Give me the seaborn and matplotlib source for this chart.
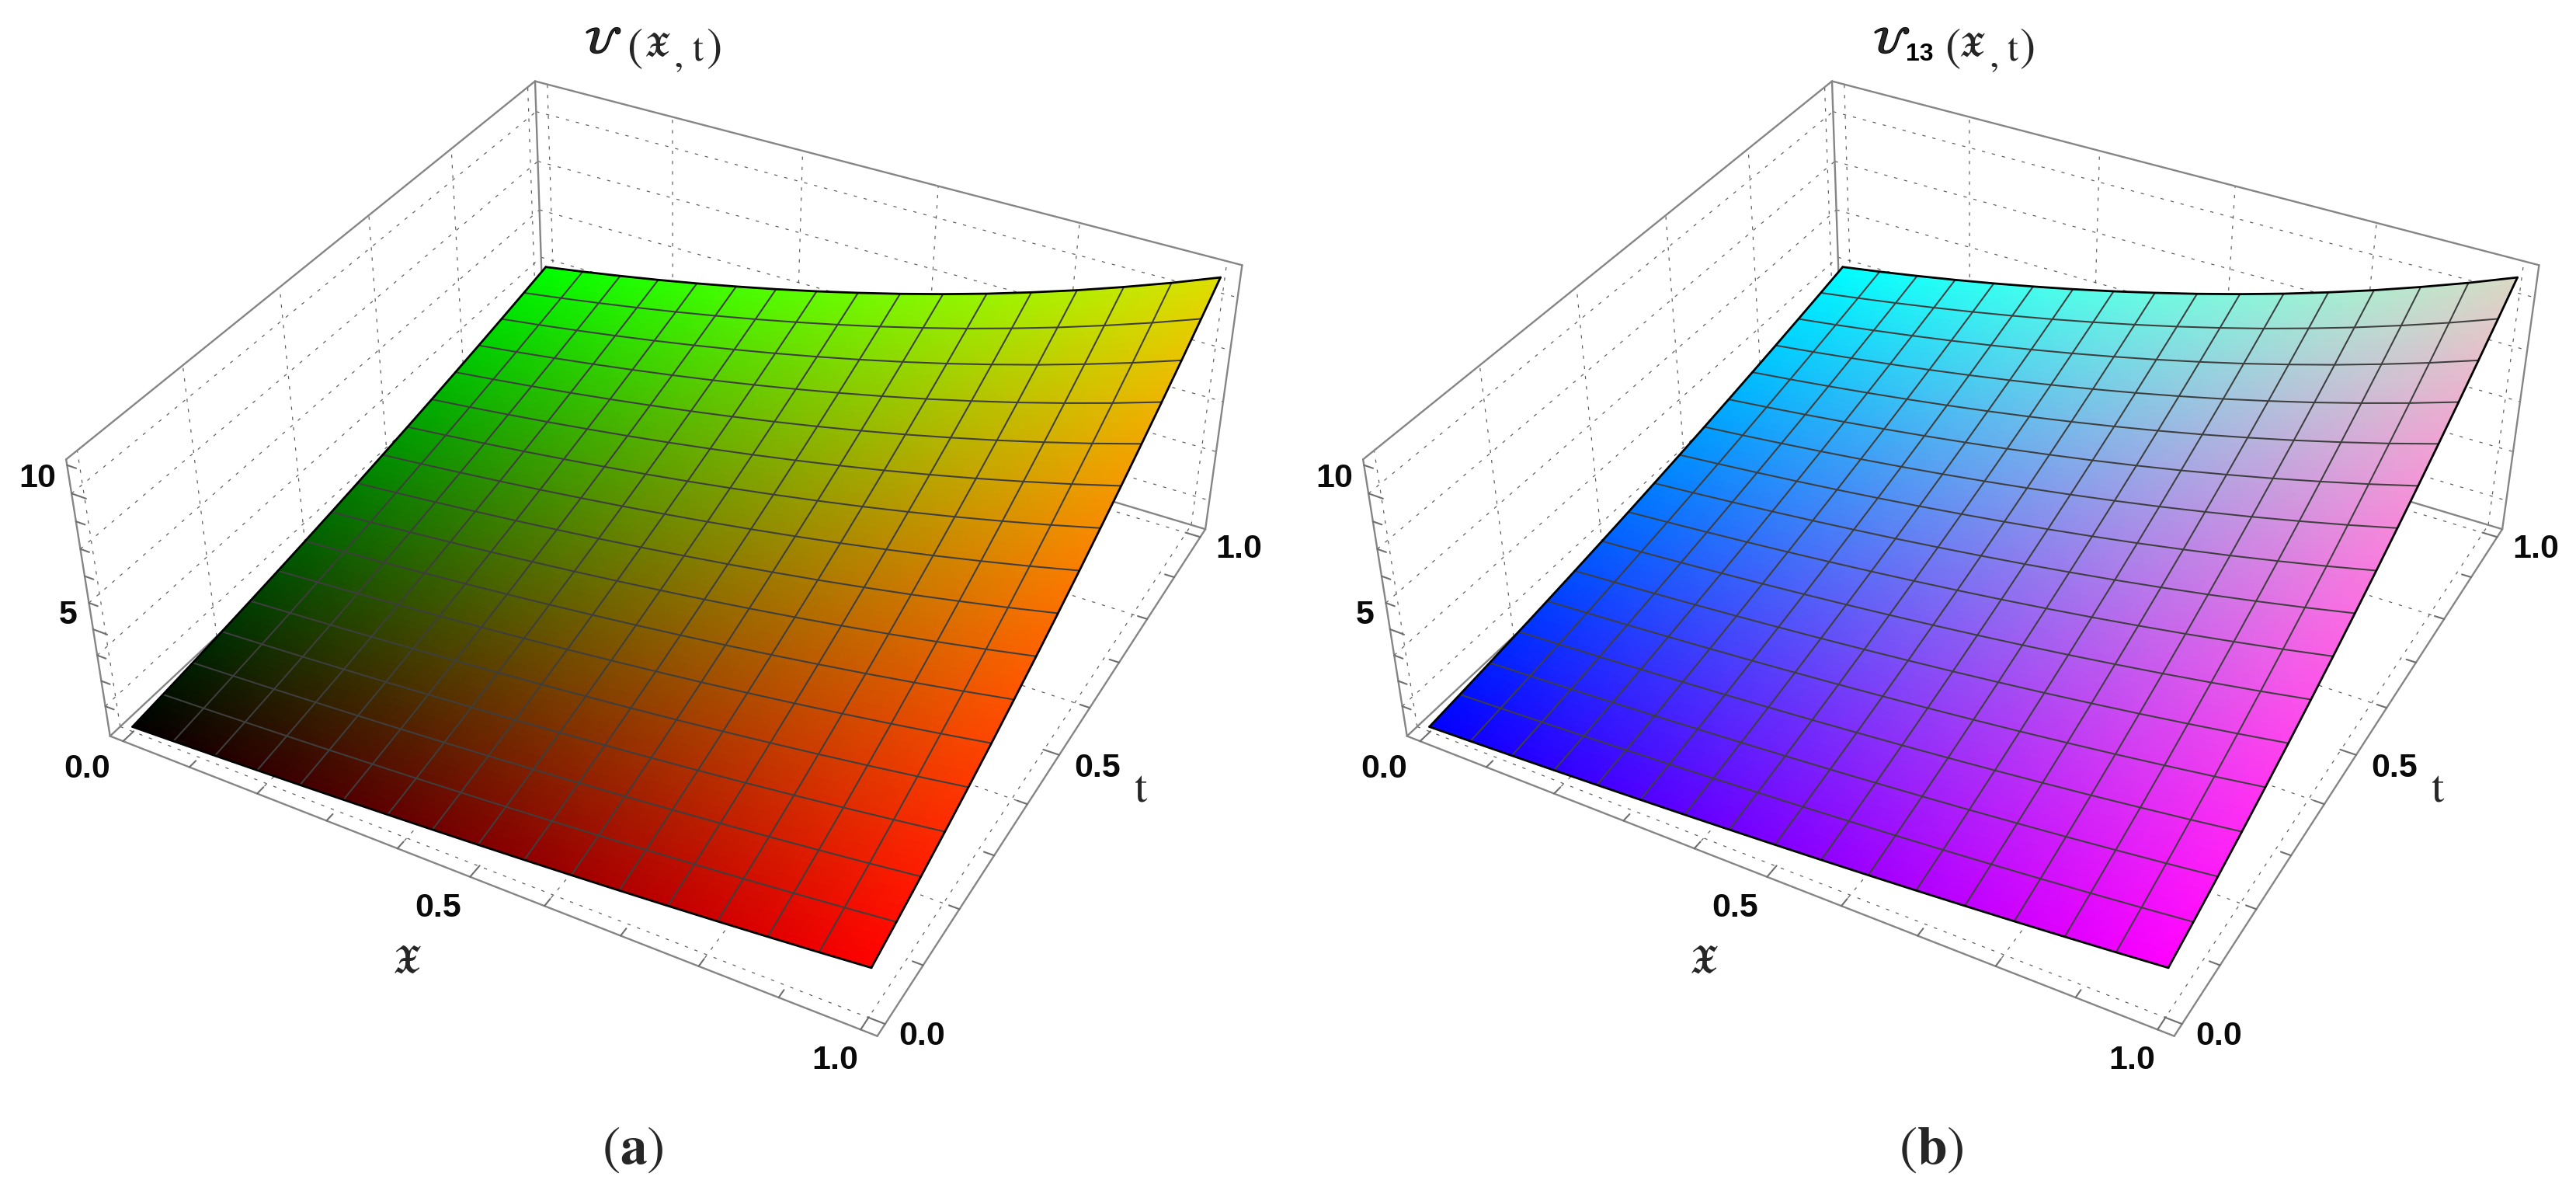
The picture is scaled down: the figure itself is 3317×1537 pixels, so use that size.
import numpy as np
import matplotlib
matplotlib.use('Agg')
import matplotlib.pyplot as plt
import matplotlib.patheffects as pe
import seaborn as sns

sns.set_theme(style='white')
plt.rcParams['mathtext.fontset'] = 'stix'
plt.rcParams['font.family'] = ['Liberation Sans', 'DejaVu Sans']

# values: surface height profile along each edge of the 16-cell mesh
x_nodes = [i / 16 for i in range(17)]
t_nodes = [j / 16 for j in range(17)]
height_along_x = [1.000, 1.064, 1.133, 1.206, 1.284, 1.367, 1.455, 1.549, 1.649,
                  1.755, 1.868, 1.988, 2.117, 2.253, 2.399, 2.553, 2.718]
height_along_t = [1.000, 1.129, 1.266, 1.410, 1.563, 1.723, 1.891, 2.066, 2.250,
                  2.441, 2.641, 2.848, 3.063, 3.285, 3.516, 3.754, 4.000]
x_tick_labels = ['0.0', '0.5', '1.0']
t_tick_labels = ['0.0', '0.5', '1.0']
z_tick_labels = ['5', '10']
major_xt = [0.0, 0.5, 1.0]
minor_xt = [0.1, 0.2, 0.3, 0.4, 0.6, 0.7, 0.8, 0.9]
major_z = [5, 10]
minor_z = [2, 3, 4, 6, 7, 8, 9, 11]
grid_xt = [0.0, 0.2, 0.4, 0.6, 0.8, 1.0]
grid_z = [2, 4, 6, 8, 10]
x_range = (-0.02, 1.02)
t_range = (-0.02, 1.02)
z_range = (0.8, 11.2)

W, H = 3317, 1537
ELEV, AZIM, ROLL, FOCAL = 36.16065, -61.74456, -0.0872, float(np.exp(-0.8379))
ASPECT = (1, 1.00453, 0.401)
SCALE, CX, CY = 8300.08, 881.0, 640.1
PANEL_DX = 1670

heights = np.outer(height_along_x, height_along_t)
REFINE = 6


def refine(values):
    """Subdivide the mesh cells so that the colour varies smoothly across each cell."""
    fine = np.linspace(0, 16, 16 * REFINE + 1)
    idx = np.arange(17)
    a = np.array([np.interp(fine, idx, row) for row in values])
    return np.array([np.interp(fine, idx, col) for col in a.T]).T


def colours_a(x, t):
    r = x * (1 - 0.13 * t ** 3)
    g = t * (1 - 0.13 * x ** 3)
    return np.dstack([r, g, np.zeros_like(x)])


def colours_b(x, t):
    r = x * (1 - 0.15 * t ** 3)
    g = t * (1 - 0.15 * x ** 3)
    return np.dstack([r, g, 1 - 0.23 * x * t])


def px(x, y):
    return x / W, 1 - y / H


def draw_panel(dx, colour_fn):
    ax = fig.add_axes([0, 0, 0.3, 0.3], projection='3d', computed_zorder=False)
    ax.set_proj_type('persp', focal_length=FOCAL)
    ax.view_init(ELEV, AZIM, ROLL)
    ax.set_box_aspect(ASPECT)
    ax.set_xlim(*x_range, view_margin=0)
    ax.set_ylim(*t_range, view_margin=0)
    ax.set_zlim(*z_range, view_margin=0)
    ax.set_axis_off()
    vx0, vx1 = ax.viewLim.intervalx
    vy0, vy1 = ax.viewLim.intervaly
    left = CX + dx + SCALE * vx0
    bottom = CY - SCALE * vy0
    ax.set_position([left / W, 1 - bottom / H,
                     SCALE * (vx1 - vx0) / W, SCALE * (vy1 - vy0) / H])

    x0, x1 = x_range
    t0, t1 = t_range
    z0, z1 = z_range

    def seg(xs, ts, zs, **kw):
        ax.plot(xs, ts, zs, clip_on=False, solid_capstyle='round', **kw)

    grid = dict(color='#5a5a5a', lw=0.85, ls=(0, (3.6, 7.6)), zorder=1)
    for v in grid_xt:
        ax.plot([v, v], [t0, t1], [z0, z0], clip_on=False, **grid)
        ax.plot([x0, x1], [v, v], [z0, z0], clip_on=False, **grid)
        ax.plot([x0, x0], [v, v], [z0, z1], clip_on=False, **grid)
        ax.plot([v, v], [t1, t1], [z0, z1], clip_on=False, **grid)
    for v in grid_z:
        ax.plot([x0, x0], [t0, t1], [v, v], clip_on=False, **grid)
        ax.plot([x0, x1], [t1, t1], [v, v], clip_on=False, **grid)

    box = dict(color='#858585', lw=1.7, zorder=2)
    for xs, ts, zs in [([x0, x0], [t0, t0], [z0, z1]), ([x0, x1], [t0, t0], [z0, z0]),
                       ([x1, x1], [t0, t1], [z0, z0]), ([x1, x1], [t1, t1], [z0, z1]),
                       ([x0, x1], [t1, t1], [z1, z1]), ([x0, x0], [t0, t1], [z1, z1]),
                       ([x0, x0], [t1, t1], [z0, z1]), ([x0, x1], [t1, t1], [z0, z0]),
                       ([x0, x0], [t0, t1], [z0, z0])]:
        seg(xs, ts, zs, **box)

    tick = dict(color='#6e6e6e', lw=1.5, zorder=2)
    for vals, length in ((major_xt, 0.021), (minor_xt, 0.013)):
        for v in vals:
            seg([v, v], [t0, t0 + length], [z0, z0], **tick)
            seg([x1, x1 - length], [v, v], [z0, z0], **tick)
    for vals, length in ((major_z, 0.021), (minor_z, 0.013)):
        for v in vals:
            seg([x0, x0 + length], [t0, t0], [v, v], **tick)

    X, T = np.meshgrid(x_nodes, t_nodes, indexing='ij')
    fx, ft, fz = refine(X), refine(T), refine(heights)
    half = 0.5 / (16 * REFINE)
    fc = colour_fn(np.clip(fx + half, 0, 1), np.clip(ft + half, 0, 1))
    ax.plot_surface(fx, ft, fz, rstride=1, cstride=1, facecolors=fc, shade=False,
                    linewidth=0, antialiased=False, zorder=3)

    mesh = dict(color='#3e3e3e', lw=1.45, zorder=4, clip_on=False)
    for k in range(1, 16):
        ax.plot(np.full(17, x_nodes[k]), t_nodes, heights[k, :], **mesh)
        ax.plot(x_nodes, np.full(17, t_nodes[k]), heights[:, k], **mesh)
    edge = dict(color='black', lw=2.0, zorder=5, clip_on=False)
    ax.plot(np.full(17, x_nodes[0]), t_nodes, heights[0, :], **edge)
    ax.plot(np.full(17, x_nodes[-1]), t_nodes, heights[-1, :], **edge)
    ax.plot(x_nodes, np.full(17, t_nodes[0]), heights[:, 0], **edge)
    ax.plot(x_nodes, np.full(17, t_nodes[-1]), heights[:, -1], **edge)

    lab = dict(ha='center', va='center', fontsize=31, fontweight='bold', color='#0a0a0a')
    for s, (a, b) in zip(x_tick_labels, [(112, 990), (564, 1169), (1075, 1365)]):
        fig.text(*px(a + dx, b), s, **lab)
    for s, (a, b) in zip(t_tick_labels, [(1187, 1334), (1413, 989), (1595, 707)]):
        fig.text(*px(a + dx, b), s, **lab)
    for s, (a, b) in zip(z_tick_labels, [(88, 792), (48, 616)]):
        fig.text(*px(a + dx, b), s, **lab)
    fig.text(*px(524 + dx, 1239), r'$\mathfrak{X}$', fontsize=35, ha='center', va='center')
    fig.text(*px(1469 + dx, 1017), r'$\mathrm{t}$', fontsize=42, ha='center', va='center')


def title_args(left_paren, xx, comma, tt, right_paren):
    """One mathtext piece per glyph, so the tall brackets can be sized as in the reference."""
    mid = dict(ha='center', va='center')
    fig.text(*px(left_paren, 63), '$($', fontsize=44, **mid)
    fig.text(*px(xx, 60), r'$\mathfrak{X}$', fontsize=32, **mid)
    fig.text(*px(comma, 73), '$,$', fontsize=36, **mid)
    fig.text(*px(tt, 64), r'$\mathrm{t}$', fontsize=36, **mid)
    fig.text(*px(right_paren, 63), '$)$', fontsize=44, **mid)


fig = plt.figure(figsize=(W / 100, H / 100), dpi=100, facecolor='white')
draw_panel(0, colours_a)
draw_panel(PANEL_DX, colours_b)

bold = [pe.withStroke(linewidth=1.4, foreground='black')]
fig.text(*px(777, 56), r'$\mathcal{U}$', fontsize=34, ha='center', va='center', path_effects=bold)
title_args(817, 846, 873, 899, 919)
fig.text(*px(2436, 56), r'$\mathcal{U}$', fontsize=34, ha='center', va='center', path_effects=bold)
fig.text(*px(2472, 70), '13', fontsize=23, fontweight='bold', ha='center', va='center', color='black')
title_args(2514, 2539, 2567, 2592, 2610)
fig.text(*px(815, 1480), r'$(\mathbf{a})$', fontsize=50, ha='center', va='center')
fig.text(*px(2487, 1480), r'$(\mathbf{b})$', fontsize=50, ha='center', va='center')

fig.savefig('out.png', dpi=100)
